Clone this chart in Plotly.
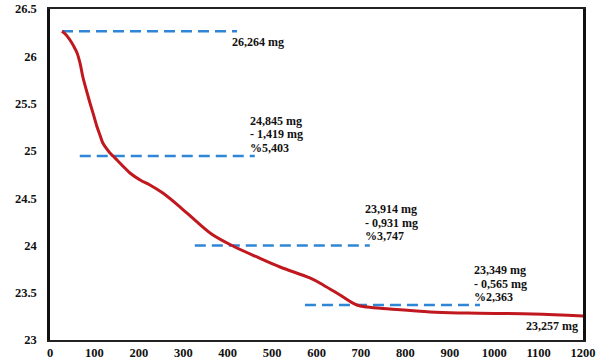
import plotly.graph_objects as go

# TGA curve (temperature °C, mass mg)
temperature = [27, 36, 45, 53, 61, 68, 74, 82, 90, 98, 106, 113, 119, 127, 135, 143, 151, 165,
               180, 203, 225, 254, 293, 331, 367, 412, 466, 518, 585, 615, 653, 691, 714,
               765, 856, 939, 1087, 1200]
mass = [26.264, 26.228, 26.172, 26.110, 26.035, 25.920, 25.781, 25.640, 25.506, 25.380,
        25.252, 25.160, 25.083, 25.025, 24.977, 24.940, 24.903, 24.835,
        24.766, 24.692, 24.639, 24.554, 24.406, 24.248, 24.110, 23.994, 23.878, 23.772,
        23.656, 23.582, 23.476, 23.370, 23.349, 23.328, 23.296, 23.285, 23.275, 23.254]

# Dashed reference levels
level_mass = [26.264, 24.945, 24.0, 23.371]
level_start = [27, 67, 326, 574]
level_end = [421, 461, 720, 968]

# Annotation texts
label_lines = [
    ["26,264 mg"],
    ["24,845 mg", "- 1,419 mg", "%5,403"],
    ["23,914 mg", "- 0,931 mg", "%3,747"],
    ["23,349 mg", "- 0,565 mg", "%2,363"],
]
label_x = [405, 446, 705, 950]
label_y = [26.151, 25.316, 24.385, 23.740]
final_label = "23,257 mg"
final_x = 1193
final_y = 23.148

x_ticks = list(range(0, 1201, 100))
y_ticks = [23, 23.5, 24, 24.5, 25, 25.5, 26, 26.5]

SERIF = "Times New Roman"

fig = go.Figure()
for m, xs, xe in zip(level_mass, level_start, level_end):
    fig.add_trace(go.Scatter(x=[xs, xe], y=[m, m], mode="lines",
                             line=dict(color="#2F86D6", width=2.5, dash="11px,6px"),
                             showlegend=False, hoverinfo="skip"))
fig.add_trace(go.Scatter(x=temperature, y=mass, mode="lines",
                         line=dict(color="#C0181E", width=3, shape="spline", smoothing=1.0),
                         showlegend=False))

font = dict(family=SERIF, size=12, color="#111", weight="bold")
for lines, xx, yy in zip(label_lines, label_x, label_y):
    for i, t in enumerate(lines):
        fig.add_annotation(x=xx, y=yy, text=t, showarrow=False,
                           xanchor="left", yanchor="middle", yshift=-13.5 * i, font=font)
fig.add_annotation(x=final_x, y=final_y, text=final_label, showarrow=False,
                   xanchor="right", yanchor="middle", font=font)

tickfont = dict(family=SERIF, size=12.5, color="#111", weight="bold")
fig.update_layout(
    width=614, height=363,
    margin=dict(l=50, r=31, t=9, b=23),
    paper_bgcolor="white", plot_bgcolor="white",
    font=dict(family=SERIF),
    xaxis=dict(range=[0, 1200], tickvals=x_ticks, showgrid=False, zeroline=False,
               showline=True, mirror=True, linecolor="#222", linewidth=2,
               tickfont=tickfont, ticks="", automargin=False),
    yaxis=dict(range=[23, 26.5], tickvals=y_ticks, showgrid=False, zeroline=False,
               showline=True, mirror=True, linecolor="#111", linewidth=2.5,
               tickfont=tickfont, ticks="", ticklabelstandoff=8, automargin=False),
)
fig.write_html("out.html")
